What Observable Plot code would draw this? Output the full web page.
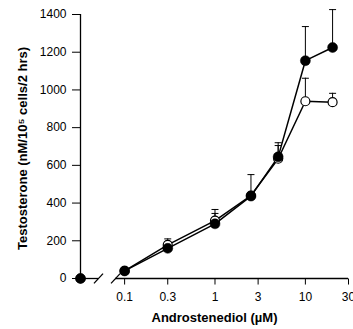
<!DOCTYPE html>
<html><head><meta charset="utf-8">
<script src="https://cdn.jsdelivr.net/npm/d3@7"></script>
<script src="https://cdn.jsdelivr.net/npm/@observablehq/plot@0.6"></script>
<style>body{margin:0;background:#fff}</style>
</head><body><div id="chart"></div>
<script>
// Androstenediol dose (µM); 0 = control, drawn left of the axis break
const doses = [0, 0.1, 0.3, 1, 2.5, 5, 10, 20];
const closedMean  = [0, 40, 160, 290, 437, 645, 1155, 1225];
const closedUpper = [null, null, null, 345, 551, 720, 1336, 1426];
const openMean    = [0, 40, 178, 307, 440, 635, 940, 935];
const openUpper   = [null, null, 210, 366, null, 705, 1062, 982];
const xTicks = [0.1, 0.3, 1, 3, 10, 30];
const yTicks = [0, 200, 400, 600, 800, 1000, 1200, 1400];
const xLabel = "Androstenediol (µM)";
const yLabel = "Testosterone (nM/10⁵ cells/2 hrs)";

// scale placement of the zero dose and the axis break
const zeroPos = 0.0325;
const breakEnds = [0.0514, 0.0794];
const xMax = 30;

const xPos = d => d.dose === 0 ? zeroPos : d.dose;
const mk = (means, uppers, series) => doses.map((d, i) => ({dose: d, mean: means[i], upper: uppers[i], series}));
const closed = mk(closedMean, closedUpper, "closed");
const open = mk(openMean, openUpper, "open");

const cap = {draw(context, size) { const r = Math.sqrt(size / Math.PI); context.moveTo(-r, 0); context.lineTo(r, 0); }};
const slashK = 1.122;

const plot = Plot.plot({
  width: 353, height: 329,
  marginLeft: 80, marginRight: 5, marginTop: 14, marginBottom: 51,
  style: {fontFamily: "'Liberation Sans', Arial, sans-serif", fontSize: "12px", background: "white", color: "black", overflow: "visible"},
  x: {type: "log", domain: [zeroPos, xMax], axis: null},
  y: {domain: [0, 1400]},
  marks: [
    Plot.axisY(yTicks, {tickSize: 8, tickPadding: 6, tickFormat: d => String(d), label: null}),
    // x ticks and tick labels (drawn as marks so the end tick 30 is kept)
    Plot.link(xTicks, {x1: d => d, x2: d => d, y1: 0, y2: -32, strokeWidth: 1}),
    Plot.text(xTicks, {x: d => d, y: () => 0, dy: 19, text: d => String(d), fontSize: 12}),
    // axis lines with break
    Plot.ruleX([zeroPos], {y1: 0, y2: 1400, strokeWidth: 1.3}),
    Plot.ruleY([0], {x1: zeroPos, x2: breakEnds[0], strokeWidth: 1.3}),
    Plot.ruleY([0], {x1: breakEnds[1], x2: xMax, strokeWidth: 1.3}),
    Plot.link(breakEnds, {x1: d => d / slashK, x2: d => d * slashK, y1: -26, y2: 26, strokeWidth: 1.3}),
    // error bars
    Plot.ruleX(open.filter(d => d.upper != null), {x: xPos, y1: "mean", y2: "upper", strokeWidth: 1}),
    Plot.dot(open.filter(d => d.upper != null), {x: xPos, y: "upper", symbol: cap, r: 3.5, stroke: "black", fill: "none", strokeWidth: 1}),
    Plot.ruleX(closed.filter(d => d.upper != null), {x: xPos, y1: "mean", y2: "upper", strokeWidth: 1}),
    Plot.dot(closed.filter(d => d.upper != null), {x: xPos, y: "upper", symbol: cap, r: 3.5, stroke: "black", fill: "none", strokeWidth: 1}),
    // lines
    Plot.line(open.filter(d => d.dose > 0), {x: xPos, y: "mean", stroke: "black", strokeWidth: 1.5}),
    Plot.line(closed.filter(d => d.dose > 0), {x: xPos, y: "mean", stroke: "black", strokeWidth: 1.5}),
    // dots
    Plot.dot(open, {x: xPos, y: "mean", r: 4.5, fill: "white", stroke: "black", strokeWidth: 1.2}),
    Plot.dot(closed, {x: xPos, y: "mean", r: 5, fill: "black", stroke: "black", strokeWidth: 0.5}),
    // axis titles
    Plot.text([xLabel], {frameAnchor: "bottom", dy: 43, fontWeight: "bold", fontSize: 13}),
    Plot.text([yLabel], {frameAnchor: "left", textAnchor: "middle", dx: -58, dy: 2, rotate: -90, fontWeight: "bold", fontSize: 13})
  ]
});
document.getElementById("chart").appendChild(plot);
</script></body></html>
